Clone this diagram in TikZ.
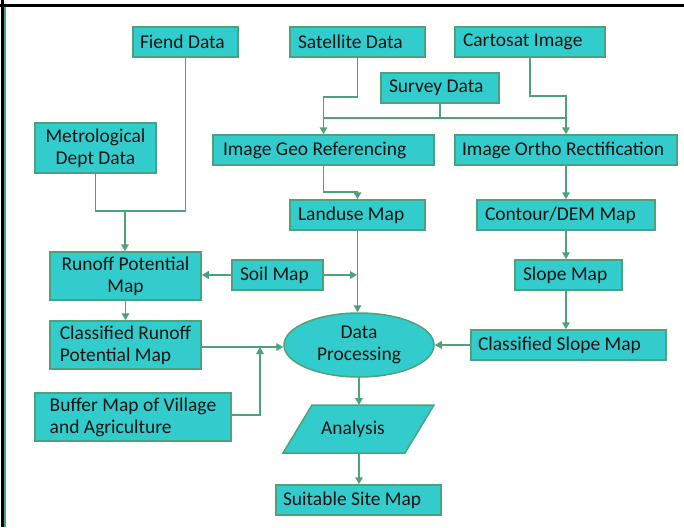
\documentclass[tikz,border=0pt]{standalone}
\usepackage{fontspec}
\setmainfont{Carlito}
\usetikzlibrary{arrows.meta,shapes.geometric,calc}
\definecolor{teal1}{HTML}{33CCCC}
\definecolor{edge}{HTML}{4CA27A}
\definecolor{txt}{HTML}{141414}
\tikzset{
  box/.style={draw=edge, fill=teal1, line width=1.5pt, inner sep=0pt, text=txt,
    font=\fontsize{19.5}{22}\selectfont, align=center,
    execute at begin node={\spaceskip=0pt\xspaceskip=0pt\relax}},
  lbox/.style={box, align=left, text width=#1},
  conn/.style={draw=edge, line width=1.6pt},
  arr/.style={conn, -{Triangle[length=7pt,width=7.5pt]}},
}
\begin{document}
\begin{tikzpicture}[x=1pt,y=-1pt]
\useasboundingbox (0,0) rectangle (684,527);
\fill[white] (0,0) rectangle (684,527);
% frame
\draw[black, line width=3pt] (0,5.5) -- (684,5.5);
\draw[black, line width=3pt] (2,0) -- (2,527);
\draw[edge, line width=1.5pt] (5,7) -- (5,527);

% nodes
\node[lbox=91, minimum width=105, minimum height=30] (fiend) at (185.5,42) {Fiend Data};
\node[lbox=119, minimum width=135, minimum height=30] (sat) at (357.5,42) {Satellite Data};
\node[lbox=134, minimum width=150, minimum height=30] (carto) at (530,42) {Cartosat Image};
\node[lbox=102, minimum width=118, minimum height=30] (survey) at (440,88) {Survey Data};
\node[box, minimum width=121, minimum height=50] (metro) at (95.5,148) {Metrological\\Dept Data};
\node[lbox=201, minimum width=221, minimum height=30] (geo) at (323.5,150) {Image Geo Referencing};
\node[lbox=208, minimum width=222, minimum height=30] (ortho) at (566,150) {Image Ortho Rectification};
\node[lbox=119, minimum width=135, minimum height=30] (land) at (357.5,215) {Landuse Map};
\node[lbox=162, minimum width=178, minimum height=30] (dem) at (566,215) {Contour/DEM Map};
\node[box, minimum width=151, minimum height=48] (runoff) at (125.5,276) {Runoff Potential\\Map};
\node[lbox=75, minimum width=91, minimum height=30] (soil) at (277.5,275) {Soil Map};
\node[lbox=91, minimum width=107, minimum height=30] (slope) at (568.5,275) {Slope Map};
\node[box, minimum width=151, minimum height=48, align=left] (crunoff) at (125.5,345) {Classified Runoff\\Potential Map};
\node[box, ellipse, minimum width=150, minimum height=64] (dp) at (359,345) {Data\\Processing};
\node[lbox=181, minimum width=195, minimum height=30] (cslope) at (568.5,345) {Classified Slope Map};
\node[box, minimum width=196, minimum height=48, align=left] (buffer) at (133,417) {Buffer Map of Village\\and Agriculture};
\fill[teal1, draw=edge, line width=1.5pt] (312,405) -- (434,405) -- (405,453) -- (283,453) -- cycle;
\node[inner sep=0pt, minimum width=150, minimum height=48, text=txt, font=\fontsize{19.5}{22}\selectfont] (ana) at (353,429) {Analysis};
\node[lbox=151, minimum width=165, minimum height=30] (suit) at (358.5,500) {Suitable Site Map};

% junction coordinates
\coordinate (jm) at (125,211);
\coordinate (js) at (357,275);
\coordinate (jb) at (260,347);

% connectors
\draw[conn] (metro.south) |- (fiend.south |- jm) -- (fiend.south);
\draw[arr] (jm) -- (runoff.north -| jm);
\draw[arr] (sat.south) |- (geo.north |- 0,97) -- (geo.north);
\draw[conn] (survey.south) -- (survey.south |- 0,118);
\draw[conn] (geo.north |- 0,118) -- (ortho.north |- 0,118);
\draw[arr] (carto.south) |- (ortho.north |- 0,96) -- (ortho.north);
\draw[arr] (geo.south) |- (land.north |- 0,192) -- (land.north);
\draw[arr] (ortho.south) -- (dem.north);
\draw[arr] (dem.south) -- (slope.north -| dem.south);
\draw[arr] (slope.south -| dem.south) -- (cslope.north -| dem.south);
\draw[arr] (land.south) -- (land.south |- dp.north);
\draw[arr] (soil.west) -- (runoff.east |- soil.west);
\draw[arr] (soil.east) -- (js);
\draw[arr] (runoff.south) -- (crunoff.north);
\draw[arr] (crunoff.east |- jb) -- (dp.west |- jb);
\draw[arr] (buffer.east |- 0,415) -| (jb);
\draw[arr] (cslope.west) -- (dp.east);
\draw[arr] (dp.south) -- (dp.south |- 0,405);
\draw[arr] (dp.south |- 0,453) -- (suit.north -| dp.south);
\end{tikzpicture}
\end{document}
